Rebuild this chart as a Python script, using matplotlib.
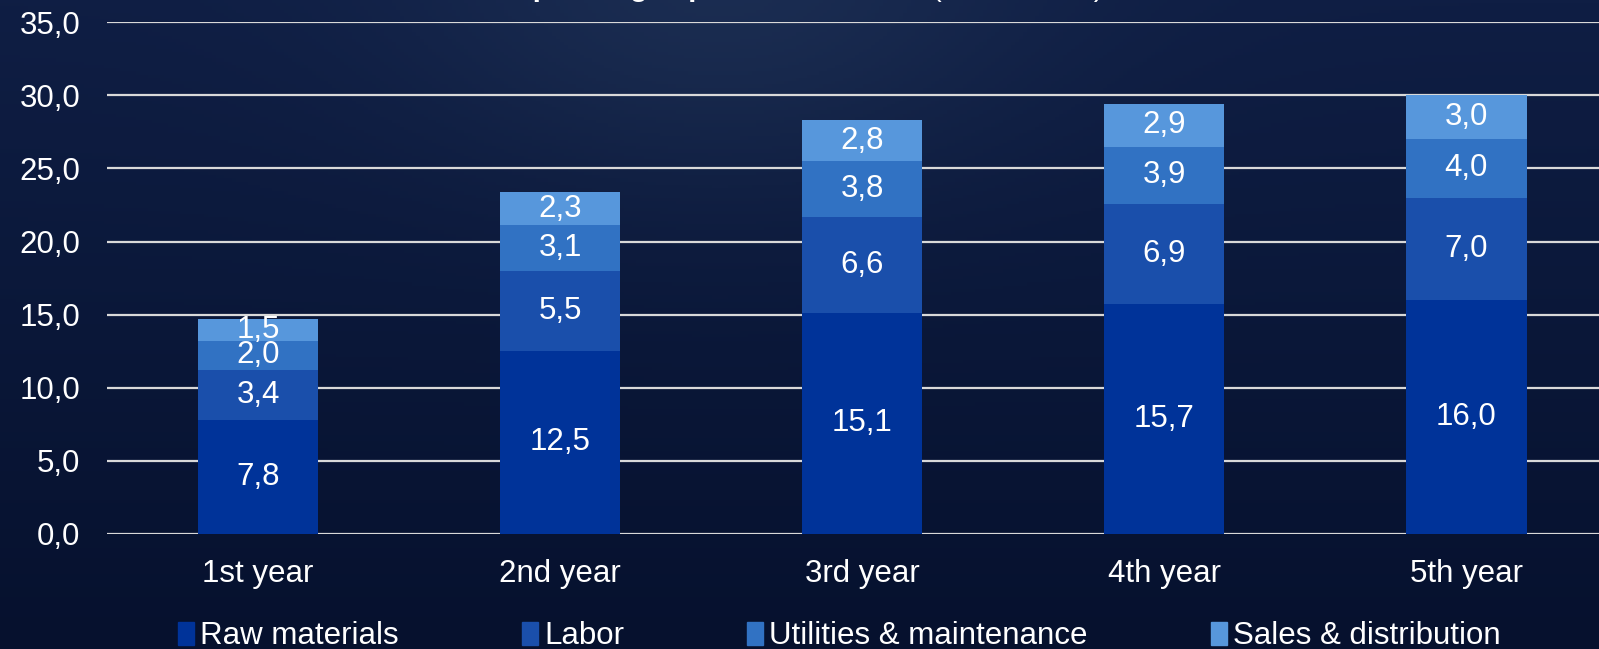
import numpy as np
import matplotlib
matplotlib.use("Agg")
import matplotlib.pyplot as plt
from matplotlib.patches import Patch

plt.rcParams['font.family'] = ['Liberation Sans', 'DejaVu Sans']

years = ['1st year', '2nd year', '3rd year', '4th year', '5th year']
raw_materials = [7.8, 12.5, 15.1, 15.7, 16.0]
labor = [3.4, 5.5, 6.6, 6.9, 7.0]
utilities = [2.0, 3.1, 3.8, 3.9, 4.0]
sales = [1.5, 2.3, 2.8, 2.9, 3.0]
series_names = ['Raw materials', 'Labor', 'Utilities & maintenance', 'Sales & distribution']
colors = ['#003399', '#1a4fab', '#3172c3', '#5797dc']

fig = plt.figure(figsize=(15.99, 6.49), dpi=100)

# background gradient
bg = fig.add_axes([0, 0, 1, 1])
ny, nx = 200, 400
yy, xx = np.mgrid[0:1:ny*1j, 0:1:nx*1j]
top = np.array([0x0f, 0x1e, 0x44]) / 255
bot = np.array([0x06, 0x11, 0x2e]) / 255
img = top[None, None, :] * (1 - yy[..., None]) + bot[None, None, :] * yy[..., None]
blob = np.exp(-(((xx - 0.45) / 0.2) ** 2 + ((yy - 0.0) / 0.3) ** 2))
img = img + blob[..., None] * (np.array([0x22, 0x36, 0x5a]) / 255 - top)[None, None, :] * 0.6
bg.imshow(np.clip(img, 0, 1), aspect='auto', extent=[0, 1, 0, 1], origin='upper')
bg.axis('off')

ax = fig.add_axes([0.0669, 0.1777, 0.9331, 0.7878])
ax.patch.set_alpha(0)
x = np.arange(len(years))
data = [raw_materials, labor, utilities, sales]
bottom = np.zeros(len(years))
for vals, name, c in zip(data, series_names, colors):
    v = np.array(vals)
    ax.bar(x, v, 0.4, bottom=bottom, color=c, label=name, zorder=3)
    for xi, b, vi in zip(x, bottom, v):
        ax.text(xi, b + vi / 2, f'{vi:.1f}'.replace('.', ','), ha='center', va='center',
                color='white', fontsize=22.5, zorder=4)
    bottom = bottom + v

ax.set_xlim(-0.5, 4.44)
ax.set_ylim(0, 35)
ax.set_yticks(np.arange(0, 36, 5))
ax.set_yticklabels([f'{t:.1f}'.replace('.', ',') for t in np.arange(0, 36, 5)])
ax.set_xticks(x)
ax.set_xticklabels(years)
ax.tick_params(axis='y', length=0, pad=19, labelsize=22.5, labelcolor='white')
ax.tick_params(axis='x', length=0, pad=18, labelsize=22.5, labelcolor='white')
ax.grid(axis='y', color='#d9d9d9', linewidth=1.6, zorder=1)
for s in ax.spines.values():
    s.set_visible(False)

# title is cut off by the top edge in the original
fig.text(0.319, 1.006, 'Operating expenses', ha='left', va='baseline', color='white',
         fontsize=21, fontweight='bold')
fig.text(0.583, 1.006, '(million USD)', ha='left', va='baseline', color='white', fontsize=21)

handles = [Patch(color=c) for c in colors]
fig.legend(handles, series_names, loc='center', bbox_to_anchor=(0.525, 0.02), ncol=4,
           frameon=False, fontsize=22.5, labelcolor='white', handlelength=0.5,
           handleheight=0.75, handletextpad=0.2, columnspacing=3.95)

fig.savefig('out.png', dpi=100)
